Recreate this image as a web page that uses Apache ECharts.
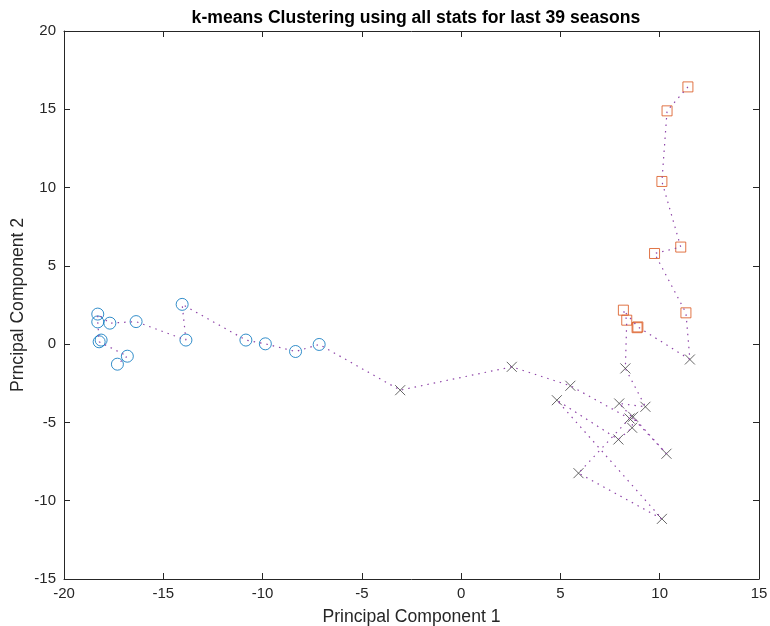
<!DOCTYPE html>
<html>
<head>
<meta charset="utf-8">
<script src="https://cdn.jsdelivr.net/npm/echarts@6/dist/echarts.min.js"></script>
<style>
html,body{margin:0;padding:0;background:#fff;}
#chart{width:770px;height:626px;}
</style>
</head>
<body>
<div id="chart"></div>
<script>
// Seasons in chronological order (principal components and cluster id)
var pc1 = [11.42, 10.37, 10.11, 11.06, 9.74, 11.32, 11.52, 8.90, 8.86, 8.17, 8.34,
           8.27, 9.28, 7.96, 10.34, 8.66, 8.61, 7.92, 4.82, 10.11, 5.91, 8.48, 5.50, 2.55, -3.07,
           -7.15, -8.34, -9.86, -10.84, -14.05, -13.86, -16.37, -17.69, -18.30, -18.30, -18.23, -18.13, -16.81, -17.31];
var pc2 = [16.43, 14.90, 10.39, 6.20, 5.79, 2.00, -0.98, 1.10, 1.05, 2.17, 1.53,
           -1.55, -4.00, -3.79, -7.00, -4.64, -5.34, -6.09, -3.58, -11.16, -8.24, -4.75, -2.66, -1.45, -2.94,
           -0.02, -0.47, 0.02, 0.26, 2.54, 0.26, 1.44, 1.34, 1.92, 1.42, 0.15, 0.26, -0.77, -1.28];
var cluster = [2, 2, 2, 2, 2, 2, 3, 2, 2, 2, 2,
               3, 3, 3, 3, 3, 3, 3, 3, 3, 3, 3, 3, 3, 3,
               1, 1, 1, 1, 1, 1, 1, 1, 1, 1, 1, 1, 1, 1];
var xTicks = [-20, 15, 5];
var yTicks = [-15, 20, 5];
var titleText = 'k-means Clustering using all stats for last 39 seasons';
var xName = 'Principal Component 1';
var yName = 'Prncipal Component 2';

var path = pc1.map(function (x, i) { return [x, pc2[i]]; });
function pick(c) {
  var out = [];
  for (var i = 0; i < pc1.length; i++) if (cluster[i] === c) out.push([pc1[i], pc2[i]]);
  return out;
}

var axisCol = '#262626';
var FONT = 'Liberation Sans, Arial, sans-serif';
var lab = {color: axisCol, fontSize: 15, fontFamily: FONT};
function xAx(pos, show) {
  return {
    type: 'value', position: pos, min: xTicks[0], max: xTicks[1], interval: xTicks[2],
    axisLine: {show: true, onZero: false, lineStyle: {color: axisCol, width: 1}},
    axisTick: {show: true, inside: true, length: 6, lineStyle: {color: axisCol}},
    axisLabel: show ? Object.assign({margin: 7, hideOverlap: false}, lab) : {show: false},
    splitLine: {show: false},
    name: show ? xName : '', nameLocation: 'middle', nameGap: 29,
    nameTextStyle: {color: axisCol, fontSize: 17.6, fontFamily: FONT}
  };
}
function yAx(pos, show) {
  return {
    type: 'value', position: pos, min: yTicks[0], max: yTicks[1], interval: yTicks[2],
    axisLine: {show: true, onZero: false, lineStyle: {color: axisCol, width: 1}},
    axisTick: {show: true, inside: true, length: 6, lineStyle: {color: axisCol}},
    axisLabel: show ? Object.assign({margin: 8, hideOverlap: false}, lab) : {show: false},
    splitLine: {show: false},
    name: show ? yName : '', nameLocation: 'middle', nameGap: 37, nameMoveOverlap: false,
    nameTextStyle: {color: axisCol, fontSize: 17.6, fontFamily: FONT}
  };
}

var chart = echarts.init(document.getElementById('chart'), null, {renderer: 'canvas'});
chart.setOption({
  animation: false,
  backgroundColor: '#fff',
  grid: {left: 64, right: 11, top: 31, bottom: 47, containLabel: false, outerBoundsMode: 'none'},
  xAxis: [xAx('bottom', true), xAx('top', false)],
  yAxis: [yAx('left', true), yAx('right', false)],
  graphic: [{
    type: 'text', x: 416, y: 18,
    style: {text: titleText, fill: '#000', font: 'bold 17.6px "Liberation Sans", Arial, sans-serif',
            textAlign: 'center', textVerticalAlign: 'middle', verticalAlign: 'middle'}
  }],
  series: [
    {
      type: 'scatter', data: pick(1), symbol: 'circle', symbolSize: 12,
      itemStyle: {color: 'rgba(0,0,0,0)', borderColor: '#0072BD', borderWidth: 1}, z: 3
    },
    {
      type: 'scatter', data: pick(2), symbol: 'rect', symbolSize: 10,
      itemStyle: {color: 'rgba(0,0,0,0)', borderColor: '#D95319', borderWidth: 1}, z: 3
    },
    {
      type: 'scatter', data: pick(3), symbol: 'path://M0,0L10,10M10,0L0,10', symbolSize: 10,
      itemStyle: {color: 'rgba(0,0,0,0)', borderColor: '#404040', borderWidth: 1}, z: 3
    },
    {
      type: 'line', data: path, showSymbol: false, symbol: 'none', z: 4,
      lineStyle: {color: '#8E44A8', width: 1.2, type: [1.5, 5]}
    }
  ]
});
</script>
</body>
</html>
